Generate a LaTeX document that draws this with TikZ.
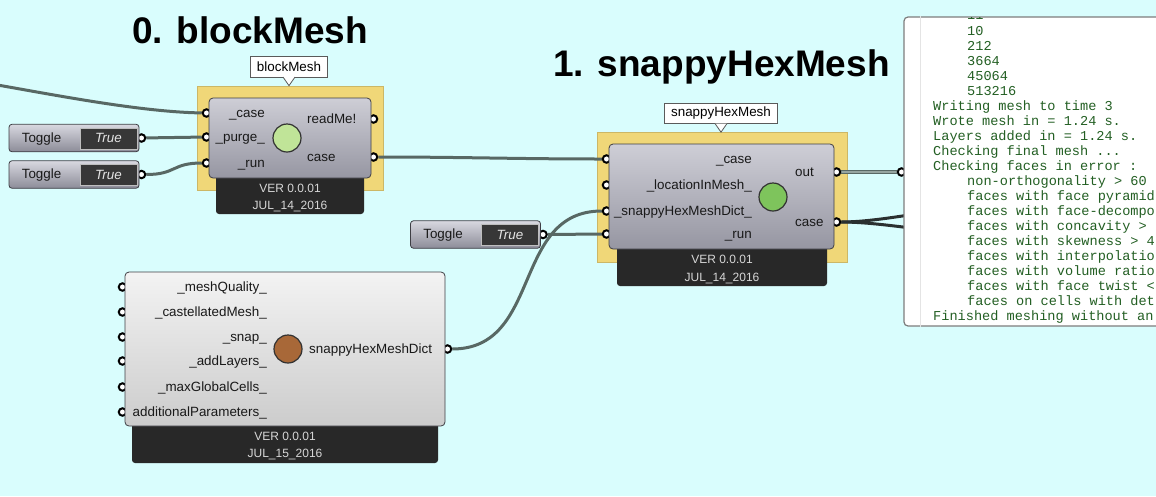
\documentclass[tikz,border=0pt]{standalone}
\usepackage{fontspec}
\setmainfont{Liberation Sans}
\newfontfamily\panelfont{Liberation Mono}
\pgfdeclarelayer{bg}
\pgfdeclarelayer{wires}
\pgfdeclarelayer{ports}
\pgfsetlayers{bg,wires,ports,main}
\newcommand\pdots{...}

\definecolor{canvas}{RGB}{217,253,253}
\definecolor{selyellow}{RGB}{240,215,120}
\definecolor{bodytop}{RGB}{206,206,214}
\definecolor{bodybot}{RGB}{150,150,162}
\definecolor{dicttop}{RGB}{243,243,243}
\definecolor{dictbot}{RGB}{204,204,204}
\definecolor{outline}{RGB}{62,62,68}
\definecolor{footcol}{RGB}{40,40,40}
\definecolor{foottext}{RGB}{215,215,215}
\definecolor{tagline}{RGB}{90,90,90}
\definecolor{togtop}{RGB}{216,216,224}
\definecolor{togbot}{RGB}{140,140,152}
\definecolor{togin}{RGB}{55,55,55}
\definecolor{togframe}{RGB}{190,190,190}
\definecolor{wirecol}{RGB}{88,104,100}
\definecolor{wiredark}{RGB}{42,48,48}
\definecolor{wirelight}{RGB}{150,165,160}
\definecolor{panelline}{RGB}{125,125,125}
\definecolor{panelrule}{RGB}{228,228,228}
\definecolor{panelgreen}{RGB}{35,95,35}
\definecolor{iconline}{RGB}{50,50,50}
\definecolor{lightgreen}{RGB}{192,228,152}
\definecolor{rungreen}{RGB}{126,196,92}
\definecolor{dictbrown}{RGB}{168,104,56}

\tikzset{
  sel/.style={fill=selyellow, draw=selyellow!85!black, line width=0.5pt, inner sep=0pt},
  foot/.style={fill=footcol, rounded corners=3pt, inner sep=0pt},
  body/.style={draw=outline, line width=0.8pt, rounded corners=4pt, top color=bodytop, bottom color=bodybot, inner sep=0pt},
  dictbody/.style={body, top color=dicttop, bottom color=dictbot},
  port/.style={circle, draw=black, fill=white, line width=2pt, inner sep=0pt, minimum size=7.5pt},
  inport/.style={port, xshift=-2.5pt},
  outport/.style={port, xshift=2.5pt},
  icon/.style={circle, draw=iconline, line width=1.2pt, inner sep=0pt, minimum size=28pt},
  plabel/.style={font=\fontsize{13.4}{15}\selectfont, text=black!90, inner sep=0pt, text height=8pt, text depth=0pt},
  ftext/.style={font=\fontsize{12}{14}\selectfont, text=foottext, inner sep=0pt, text height=8.6pt, text depth=0pt},
  tag/.style={draw=tagline, fill=white, line width=0.8pt, font=\fontsize{13.4}{15}\selectfont, inner xsep=6.5pt, inner ysep=0pt, minimum height=20.5pt},
  tagtip/.style={draw=tagline, fill=white, line width=0.8pt},
  title/.style={font=\bfseries\fontsize{37}{40}\selectfont, anchor=base west, inner sep=0pt},
  toggle/.style={draw=outline, line width=0.8pt, rounded corners=3pt, top color=togtop, bottom color=togbot, inner sep=0pt},
  togbox/.style={draw=togframe, line width=1pt, fill=togin, text=white!90!black, font=\itshape\fontsize{13.4}{15}\selectfont, inner sep=0pt, text height=8pt, text depth=0pt, minimum width=57pt, minimum height=21pt},
  wire/.style={draw=wirecol, line width=3pt},
  darkwire/.style={draw=wiredark, line width=3pt},
  listwire/.style={draw=wirecol, line width=1.3pt, double=wirelight, double distance=1.4pt},
  panel/.style={draw=panelline, line width=1.2pt, fill=white, rounded corners=4pt, inner sep=0pt},
  ptext/.style={font=\panelfont\fontsize{13.6}{15}\selectfont, text=panelgreen, anchor=base west, inner sep=0pt},
}

\begin{document}
\begin{tikzpicture}[x=1pt,y=-1pt]
\useasboundingbox (0,0) rectangle (1156,496);
\begin{pgfonlayer}{bg}
  \fill[canvas] (0,0) rectangle (1156,496);
  \node[sel, minimum width=186pt, minimum height=104pt] (bm-sel) at (290,138) {};
  \node[sel, minimum width=250pt, minimum height=130pt] (shm-sel) at (722,197) {};
\end{pgfonlayer}

% titles
\node[title] (bm-title) at (132,43) {0. blockMesh};
\node[title] (shm-title) at (553,76) {1. snappyHexMesh};

% toggles
\foreach \n/\x/\y in {tg1/74/138, tg2/74/174.5, tg3/475.5/234.5} {
  \begin{pgfonlayer}{ports}
    \node[outport] (\n-out) at (\x+65,\y) {};
  \end{pgfonlayer}
  \node[toggle, minimum width=130pt, minimum height=27.5pt] (\n) at (\x,\y) {};
  \node[plabel, anchor=west] at ([xshift=13pt]\n.west) {Toggle};
  \node[togbox] (\n-val) at ([xshift=34.5pt,yshift=-0.5pt]\n.center) {True};
}

% blockMesh
\node[foot, minimum width=148pt, minimum height=50pt] (bm-foot) at (290,189) {};
\node[ftext] at (290,188) {VER 0.0.01};
\node[ftext] at (290,205) {JUL\_14\_2016};
\begin{pgfonlayer}{ports}
  \node[inport] (bm-case) at (209,113) {};
  \node[inport] (bm-purge) at (209,137) {};
  \node[inport] (bm-run) at (209,163) {};
  \node[outport] (bm-readme) at (371,119) {};
  \node[outport] (bm-caseout) at (371,157) {};
\end{pgfonlayer}
\node[body, minimum width=162pt, minimum height=80pt] (bm) at (290,138) {};
\node[plabel, anchor=east] at (265,113) {\_case};
\node[plabel, anchor=east] at (265,137) {\_purge\_};
\node[plabel, anchor=east] at (265,163) {\_run};
\node[plabel, anchor=west] at (307,119) {readMe!};
\node[plabel, anchor=west] at (307,157) {case};
\node[icon, fill=lightgreen] (bm-icon) at (287,138) {};
\node[tag] (bm-tag) at (289,67) {blockMesh};
\filldraw[tagtip] ([xshift=-6pt,yshift=0.6pt]bm-tag.south) -- ([yshift=-8pt]bm-tag.south) -- ([xshift=6pt,yshift=0.6pt]bm-tag.south);

% snappyHexMesh
\node[foot, minimum width=210pt, minimum height=50pt] (shm-foot) at (722,261) {};
\node[ftext] at (722,259) {VER 0.0.01};
\node[ftext] at (722,277) {JUL\_14\_2016};
\begin{pgfonlayer}{ports}
  \node[inport] (shm-case) at (609,159) {};
  \node[inport] (shm-loc) at (609,185) {};
  \node[inport] (shm-dict) at (609,211) {};
  \node[inport] (shm-run) at (609,234) {};
  \node[outport] (shm-out) at (834,172) {};
  \node[outport] (shm-caseout) at (834,222) {};
\end{pgfonlayer}
\node[body, minimum width=225pt, minimum height=105pt] (shm) at (721.5,196.5) {};
\node[plabel, anchor=east] at (752,159) {\_case};
\node[plabel, anchor=east] at (752,185) {\_locationInMesh\_};
\node[plabel, anchor=east] at (752,211) {\_snappyHexMeshDict\_};
\node[plabel, anchor=east] at (752,234) {\_run};
\node[plabel, anchor=west] at (795,172) {out};
\node[plabel, anchor=west] at (795,222) {case};
\node[icon, fill=rungreen] (shm-icon) at (773,197) {};
\node[tag] (shm-tag) at (721,113.5) {snappyHexMesh};
\filldraw[tagtip] ([xshift=-6pt,yshift=0.6pt]shm-tag.south) -- ([yshift=-8pt]shm-tag.south) -- ([xshift=6pt,yshift=0.6pt]shm-tag.south);

% snappyHexMeshDict
\node[foot, minimum width=306pt, minimum height=60pt] (shd-foot) at (285,433) {};
\node[ftext] at (285,436) {VER 0.0.01};
\node[ftext] at (285,453) {JUL\_15\_2016};
\begin{pgfonlayer}{ports}
  \node[outport] (shd-out) at (445,349) {};
\end{pgfonlayer}
\node[dictbody, minimum width=320pt, minimum height=154pt] (shd) at (285,349) {};
\foreach \y/\t [count=\i] in {287/\_meshQuality\_, 312/\_castellatedMesh\_, 337/\_snap\_, 361/\_addLayers\_, 387/\_maxGlobalCells\_, 412/additionalParameters\_} {
  \begin{pgfonlayer}{ports}
    \node[inport] (shd-in\i) at (125,\y) {};
  \end{pgfonlayer}
  \node[plabel, anchor=east] at (267,\y) {\t};
}
\node[plabel, anchor=west] at (309,349) {snappyHexMeshDict};
\node[icon, fill=dictbrown] (shd-icon) at (288,349) {};

% panel
\begin{pgfonlayer}{ports}
  \node[inport] (pnl-in) at (904,172) {};
\end{pgfonlayer}
\node[panel, minimum width=290pt, minimum height=309pt] (pnl) at (1049,171.5) {};
\draw[panelrule, line width=1pt] ([xshift=17pt]pnl.north west) -- ([xshift=17pt]pnl.south west);
\begin{scope}
  \clip (905,17.6) rectangle (1156,325.4);
  \foreach \y/\x/\t in {19/967/11, 35/967/10, 50/967/212, 65/967/3664, 80/967/45064, 95/967/513216,
      110/933/{Writing mesh to time 3}, 125/933/{Wrote mesh in = 1.24 s.}, 140/933/{Layers added in = 1.24 s.},
      155/933/{Checking final mesh \pdots}, 170/933/{Checking faces in error :},
      185/967/{non-orthogonality > 60}, 200/967/{faces with face pyramid}, 215/967/{faces with face-decompo},
      230/967/{faces with concavity >}, 245/967/{faces with skewness > 4}, 260/967/{faces with interpolatio},
      275/967/{faces with volume ratio}, 290/967/{faces with face twist <}, 305/967/{faces on cells with det},
      320/933/{Finished meshing without an}}
    \node[ptext] at (\x,\y) {\t};
\end{scope}

% wires
\coordinate (bm-src) at (-20,82);
\coordinate (sinkA) at (1000,205);
\coordinate (sinkB) at (1000,236);
\begin{pgfonlayer}{wires}
  \draw[wire] (bm-src) .. controls +(60,10) and +(-70,-1) .. (bm-case);
  \draw[wire] (tg1-out) -- (bm-purge);
  \draw[wire] (tg2-out) .. controls +(35,0) and +(-35,0) .. (bm-run);
  \draw[wire] (bm-caseout) .. controls +(90,0) and +(-90,0) .. (shm-case);
  \draw[wire] (tg3-out) -- (shm-run);
  \draw[wire] (shd-out) .. controls +(95,0) and +(-95,0) .. (shm-dict);
  \draw[listwire] (shm-out) -- (pnl-in);
  \draw[darkwire] (shm-caseout) .. controls +(50,0) and +(-50,0) .. (sinkA);
  \draw[darkwire] (shm-caseout) .. controls +(50,0) and +(-50,0) .. (sinkB);
\end{pgfonlayer}
\end{tikzpicture}
\end{document}
